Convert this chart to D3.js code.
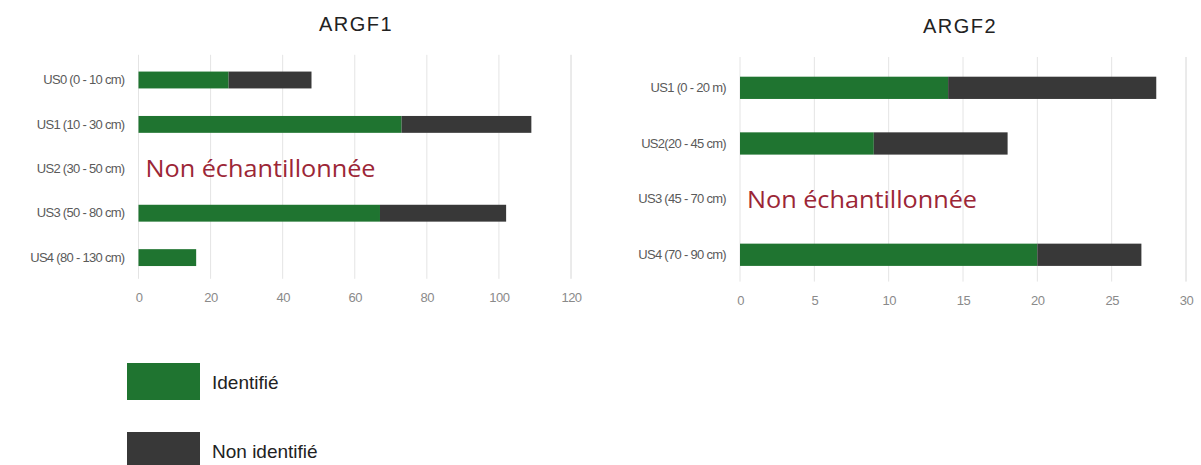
<!DOCTYPE html>
<html>
<head>
<meta charset="utf-8">
<script src="https://cdn.jsdelivr.net/npm/d3@7"></script>
<style>
  html, body { margin: 0; padding: 0; background: #fff; }
  svg { display: block; }
</style>
</head>
<body>
<svg id="chart" width="1201" height="465"></svg>
<script>
// ARGF1 profile: counts per stratigraphic unit
const argf1Categories = ["US0 (0 - 10 cm)", "US1 (10 - 30 cm)", "US2 (30 - 50 cm)", "US3 (50 - 80 cm)", "US4  (80 - 130 cm)"];
const argf1Identified = [25, 73, null, 67, 16];
const argf1Unidentified = [23, 36, null, 35, 0];
const argf1Ticks = [0, 20, 40, 60, 80, 100, 120];

// ARGF2 profile
const argf2Categories = ["US1 (0 - 20 m)", "US2(20 - 45 cm)", "US3 (45 - 70 cm)", "US4 (70 - 90 cm)"];
const argf2Identified = [14, 9, null, 20];
const argf2Unidentified = [14, 9, null, 7];
const argf2Ticks = [0, 5, 10, 15, 20, 25, 30];

const seriesNames = ["Identifié", "Non identifié"];
const seriesColors = ["#1f7430", "#383838"];
const notSampledLabel = "Non échantillonnée";

const svg = d3.select("#chart");

function drawPanel(opts) {
  const { title, categories, identified, unidentified, ticks, x0, x1, y0, y1, titleX, titleY, tickY, barPad } = opts;
  const g = svg.append("g");

  const x = d3.scaleLinear().domain([ticks[0], ticks[ticks.length - 1]]).range([x0, x1]);
  const y = d3.scaleBand().domain(categories).range([y0, y1])
    .paddingInner(barPad).paddingOuter(barPad / 2);

  // vertical gridlines
  g.append("g").selectAll("line").data(ticks).join("line")
    .attr("x1", d => x(d)).attr("x2", d => x(d))
    .attr("y1", y0 - 3).attr("y2", y1 - 1)
    .attr("stroke", (d, i) => i === ticks.length - 1 ? "#d6d6d6" : "#e4e4e4")
    .attr("stroke-width", 1);

  // x axis labels
  const xAxis = d3.axisBottom(x).tickValues(ticks).tickSize(0).tickPadding(0);
  const ax = g.append("g").attr("transform", `translate(0,${tickY})`).call(xAxis);
  ax.select(".domain").remove();
  ax.selectAll("text")
    .attr("dy", "0.35em")
    .attr("fill", "#8a8a8a")
    .style("font-family", "'Liberation Sans', Arial, sans-serif")
    .style("font-size", "13px")
    .style("letter-spacing", "-0.5px");

  // y axis labels
  const yAxis = d3.axisLeft(y).tickSize(0).tickPadding(14);
  const ay = g.append("g").attr("transform", `translate(${x0},0)`).call(yAxis);
  ay.select(".domain").remove();
  ay.selectAll("text")
    .attr("fill", "#5a5a5a")
    .style("font-family", "'Liberation Sans', Arial, sans-serif")
    .style("font-size", "13px")
    .style("letter-spacing", "-0.7px");

  // stacked bars
  const rows = categories.map((c, i) => ({ cat: c, id: identified[i], nid: unidentified[i] }));
  const stack = d3.stack().keys(["id", "nid"]).value((d, k) => d[k] == null ? 0 : d[k]);
  const layers = stack(rows.filter(r => r.id != null));
  g.append("g").selectAll("g").data(layers).join("g")
    .attr("fill", (d, i) => seriesColors[i])
    .selectAll("rect").data(d => d).join("rect")
    .attr("x", d => x(d[0]))
    .attr("y", d => y(d.data.cat))
    .attr("width", d => Math.max(0, x(d[1]) - x(d[0])))
    .attr("height", y.bandwidth());

  // rows without samples
  g.append("g").selectAll("text").data(rows.filter(r => r.id == null)).join("text")
    .attr("x", x0 + 7)
    .attr("y", d => y(d.cat) + y.bandwidth() / 2)
    .attr("dy", "0.36em")
    .attr("fill", "#9c2636")
    .style("font-family", "'Open Sans', 'Noto Sans', sans-serif")
    .style("font-size", "24px")
    .attr("textLength", 230)
    .attr("lengthAdjust", "spacingAndGlyphs")
    .text(notSampledLabel);

  // title
  g.append("text")
    .attr("x", titleX).attr("y", titleY)
    .attr("text-anchor", "middle")
    .attr("fill", "#222")
    .style("font-family", "'Liberation Sans', Arial, sans-serif")
    .style("font-size", "20px")
    .style("letter-spacing", "1.5px")
    .text(title);
}

drawPanel({
  title: "ARGF1",
  categories: argf1Categories, identified: argf1Identified, unidentified: argf1Unidentified,
  ticks: argf1Ticks, x0: 138.5, x1: 571, y0: 57.8, y1: 279.8,
  titleX: 356, titleY: 31, tickY: 297, barPad: 0.62
});

drawPanel({
  title: "ARGF2",
  categories: argf2Categories, identified: argf2Identified, unidentified: argf2Unidentified,
  ticks: argf2Ticks, x0: 740, x1: 1186, y0: 60, y1: 282.6,
  titleX: 960, titleY: 33, tickY: 300, barPad: 0.6
});

// legend
const legend = svg.append("g").selectAll("g").data(seriesNames).join("g")
  .attr("transform", (d, i) => `translate(127,${363 + i * 69})`);
legend.append("rect")
  .attr("width", 73).attr("height", 37)
  .attr("fill", (d, i) => seriesColors[i]);
legend.append("text")
  .attr("x", 85).attr("y", 19)
  .attr("dy", "0.35em")
  .attr("fill", "#222")
  .style("font-family", "'Liberation Sans', Arial, sans-serif")
  .style("font-size", "19px")
  .text(d => d);
</script>
</body>
</html>
